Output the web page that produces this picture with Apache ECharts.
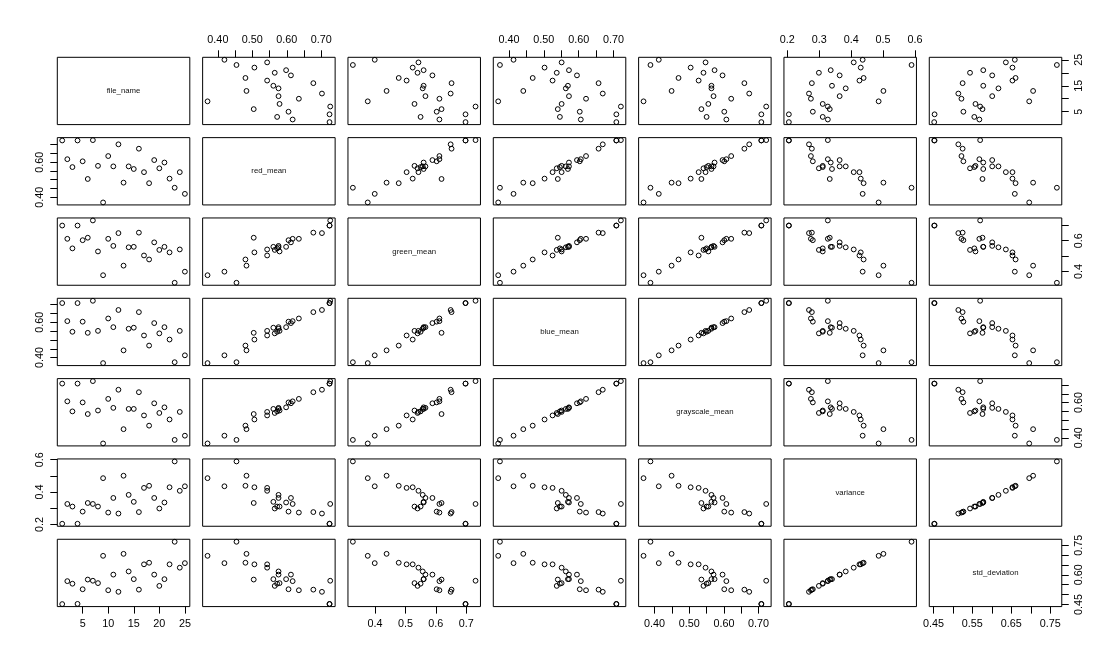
<!DOCTYPE html>
<html><head><meta charset="utf-8">
<script src="https://cdn.jsdelivr.net/npm/echarts@6/dist/echarts.min.js"></script>
<style>html,body{margin:0;padding:0;background:#fff}#c{width:1119px;height:664px}</style>
</head><body><div id="c"></div>
<script>
// ---- data (one entry per image, file_name 1..25) ----
const fileName = [1,2,3,4,5,6,7,8,9,10,11,12,13,14,15,16,17,18,19,20,21,22,23,24,25];
const redMean = [0.724,0.617,0.572,0.724,0.605,0.504,0.726,0.579,0.370,0.635,0.576,0.702,0.483,0.576,0.561,0.677,0.543,0.480,0.612,0.565,0.598,0.506,0.454,0.543,0.419];
const greenMean = [0.698,0.612,0.550,0.698,0.603,0.619,0.731,0.530,0.376,0.612,0.566,0.649,0.438,0.557,0.560,0.652,0.504,0.478,0.589,0.540,0.560,0.524,0.327,0.543,0.399];
const blueMean = [0.708,0.606,0.546,0.708,0.603,0.540,0.721,0.551,0.369,0.621,0.572,0.669,0.441,0.563,0.569,0.657,0.525,0.468,0.595,0.537,0.572,0.502,0.374,0.551,0.413];
const grayscaleMean = [0.708,0.607,0.550,0.708,0.601,0.535,0.722,0.555,0.368,0.621,0.570,0.673,0.449,0.564,0.564,0.659,0.527,0.469,0.596,0.541,0.573,0.504,0.388,0.547,0.412];
const variance = [0.205,0.327,0.311,0.205,0.280,0.333,0.327,0.311,0.486,0.274,0.364,0.268,0.501,0.383,0.340,0.277,0.426,0.439,0.364,0.299,0.336,0.430,0.589,0.408,0.436];
const stdDeviation = [0.452,0.568,0.555,0.453,0.527,0.576,0.570,0.558,0.696,0.522,0.601,0.514,0.706,0.617,0.578,0.525,0.653,0.661,0.601,0.544,0.578,0.653,0.767,0.636,0.659];

// ---- tick marks and tick labels ----
const fileTicks = [5,10,15,20,25];
const fileLabelsX = [5,10,15,20,25];
const fileLabelsY = [5,15,25];
const redTicks = [0.40,0.45,0.50,0.55,0.60,0.65,0.70];
const redLabelsX = [0.40,0.50,0.60,0.70];
const redLabelsY = [0.40,0.60];
const greenTicks = [0.4,0.5,0.6,0.7];
const greenLabelsX = [0.4,0.5,0.6,0.7];
const greenLabelsY = [0.4,0.6];
const blueTicks = [0.40,0.45,0.50,0.55,0.60,0.65,0.70];
const blueLabelsX = [0.40,0.50,0.60,0.70];
const blueLabelsY = [0.40,0.60];
const grayTicks = [0.40,0.45,0.50,0.55,0.60,0.65,0.70];
const grayLabelsX = [0.40,0.50,0.60,0.70];
const grayLabelsY = [0.40,0.60];
const varianceTicks = [0.2,0.3,0.4,0.5,0.6];
const varianceLabelsX = [0.2,0.3,0.4,0.5,0.6];
const varianceLabelsY = [0.2,0.4,0.6];
const stdTicks = [0.45,0.50,0.55,0.60,0.65,0.70,0.75];
const stdLabelsX = [0.45,0.55,0.65,0.75];
const stdLabelsY = [0.45,0.60,0.75];

const vars = [
  {name:'file_name', values:fileName, ticks:fileTicks, labX:fileLabelsX, labY:fileLabelsY, dec:0},
  {name:'red_mean', values:redMean, ticks:redTicks, labX:redLabelsX, labY:redLabelsY, dec:2},
  {name:'green_mean', values:greenMean, ticks:greenTicks, labX:greenLabelsX, labY:greenLabelsY, dec:1},
  {name:'blue_mean', values:blueMean, ticks:blueTicks, labX:blueLabelsX, labY:blueLabelsY, dec:2},
  {name:'grayscale_mean', values:grayscaleMean, ticks:grayTicks, labX:grayLabelsX, labY:grayLabelsY, dec:2},
  {name:'variance', values:variance, ticks:varianceTicks, labX:varianceLabelsX, labY:varianceLabelsY, dec:1},
  {name:'std_deviation', values:stdDeviation, ticks:stdTicks, labX:stdLabelsX, labY:stdLabelsY, dec:2}
];

const N = vars.length, X0 = 57.3, Y0 = 57.3, DX = 145.33, DY = 80.33, W = 132.5, H = 67.3;
const FONT = '"Liberation Sans", Arial, sans-serif';
const grids = [], xAxes = [], yAxes = [], series = [], graphics = [];
function rng(v){ const mn = Math.min(...v), mx = Math.max(...v), p = 0.04*(mx-mn); return [mn-p, mx+p]; }

for (let i = 0; i < N; i++) {
  for (let j = 0; j < N; j++) {
    const k = grids.length;
    const left = X0 + j*DX, top = Y0 + i*DY;
    grids.push({left:left, top:top, width:W, height:H, show:true, borderColor:'#000', borderWidth:1, backgroundColor:'transparent'});
    const vx = vars[j], vy = vars[i];
    const rx = rng(vx.values), ry = rng(vy.values);
    const showTop = i === 0 && j % 2 === 1, showBottom = i === N-1 && j % 2 === 0;
    const showLeft = j === 0 && i % 2 === 1, showRight = j === N-1 && i % 2 === 0;
    const sx = showTop || showBottom, sy = showLeft || showRight;
    xAxes.push({
      type:'value', gridIndex:k, min:rx[0], max:rx[1], position: showTop ? 'top' : 'bottom',
      splitLine:{show:false}, axisLine:{show:false},
      axisTick:{show:sx, customValues:vx.ticks, length:7, lineStyle:{color:'#000', width:1}},
      axisLabel:{show:sx, customValues:vx.labX, formatter:(v)=>Number(v).toFixed(vx.dec), margin:12, fontSize:10.8, color:'#000', fontFamily:FONT}
    });
    yAxes.push({
      type:'value', gridIndex:k, min:ry[0], max:ry[1], position: showRight ? 'right' : 'left',
      splitLine:{show:false}, axisLine:{show:false},
      axisTick:{show:sy, customValues:vy.ticks, length:7, lineStyle:{color:'#000', width:1}},
      axisLabel:{show:sy, customValues:vy.labY, rotate:90, formatter:(v)=>Number(v).toFixed(vy.dec), margin:12, fontSize:10.8, color:'#000', fontFamily:FONT}
    });
    if (i === j) {
      graphics.push({type:'text', x:left + W/2, y:top + H/2,
        style:{text:vx.name, fill:'#111', font:'7.8px ' + FONT, align:'center', verticalAlign:'middle', textAlign:'center', textVerticalAlign:'middle'}});
    } else {
      series.push({
        type:'scatter', xAxisIndex:k, yAxisIndex:k, silent:true,
        symbol:'circle', symbolSize:4.8,
        itemStyle:{color:'rgba(0,0,0,0)', borderColor:'#000', borderWidth:1, opacity:1},
        data: vx.values.map((v, n) => [v, vy.values[n]])
      });
    }
  }
}

const chart = echarts.init(document.getElementById('c'), null, {renderer:'canvas'});
chart.setOption({
  animation:false, backgroundColor:'#fff',
  grid:grids, xAxis:xAxes, yAxis:yAxes, series:series, graphic:graphics
});
</script>
</body></html>
